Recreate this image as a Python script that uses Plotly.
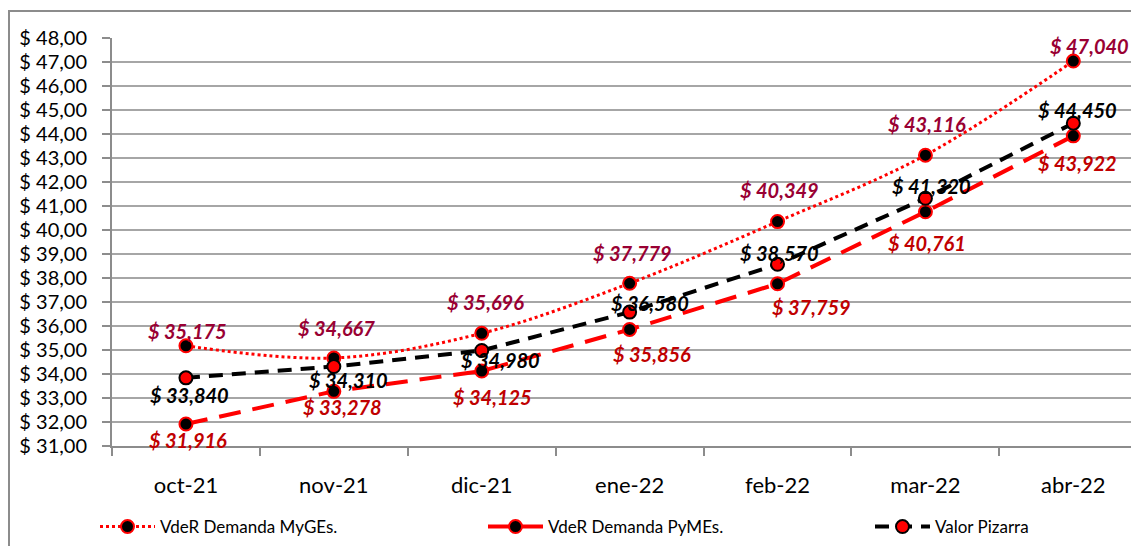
import plotly.graph_objects as go

months = ["oct-21", "nov-21", "dic-21", "ene-22", "feb-22", "mar-22", "abr-22"]
myges = [35.175, 34.667, 35.696, 37.779, 40.349, 43.116, 47.040]
pymes = [31.916, 33.278, 34.125, 35.856, 37.759, 40.761, 43.922]
pizarra = [33.840, 34.310, 34.980, 36.580, 38.570, 41.320, 44.450]
names = ["VdeR Demanda MyGEs.", "VdeR Demanda PyMEs.", "Valor Pizarra"]
ytick_vals = list(range(31, 49))
ytick_text = [f"$ {v},00" for v in ytick_vals]

# label offsets in px (style)
off_myges = [(2, 15), (3, 30), (4, 31), (3, 30), (2, 32), (2, 31), (16, 15)]
off_pymes = [(2, -16), (9, -16), (11, -26), (22, -25), (34, -23), (2, -31), (4, -27)]
off_piz = [(4, -17), (15, -13), (19, -10), (20, 9), (2, 11), (6, 12), (4, 13)]

FONT = "Lato"
L, R, T, B = 112, 0, 38, 100
W, H = 1131, 546
pw, ph = W - L - R, H - T - B


def px_x(p):
    return (p - L) / pw


def px_y(p):
    return (H - B - p) / ph


fig = go.Figure()
fig.add_trace(go.Scatter(
    x=months, y=myges, name=names[0], mode="lines+markers", legend="legend",
    line=dict(color="#FF0000", width=3, dash="dot", shape="spline"),
    marker=dict(size=13, color="black", line=dict(color="#FF0000", width=2)),
))
fig.add_trace(go.Scatter(
    x=months, y=pymes, name=names[1], mode="lines+markers", legend="legend2",
    line=dict(color="#FF0000", width=4, dash="22px,12px"),
    marker=dict(size=13, color="black", line=dict(color="#FF0000", width=2)),
))
fig.add_trace(go.Scatter(
    x=months, y=pizarra, name=names[2], mode="lines+markers", legend="legend3",
    line=dict(color="black", width=4, dash="14px,9px"),
    marker=dict(size=13, color="#FF0000", line=dict(color="black", width=2)),
))


def fmt(v):
    return f"$ {v:.3f}".replace(".", ",")


for vals, offs, col in [(myges, off_myges, "#990033"), (pymes, off_pymes, "#C00000"), (pizarra, off_piz, "black")]:
    for m, v, (dx, dy) in zip(months, vals, offs):
        fig.add_annotation(x=m, y=v, text=f"<b><i>{fmt(v)}</i></b>", showarrow=False,
                           xshift=dx, yshift=dy, font=dict(family=FONT, size=20, color=col))

# outer frame
fig.add_shape(type="rect", xref="paper", yref="paper",
              x0=px_x(9), x1=px_x(W + 10), y0=px_y(H + 10), y1=px_y(11),
              line=dict(color="#8C8C8C", width=2), fillcolor="rgba(0,0,0,0)", layer="below")


def leg(xpx):
    return dict(orientation="h", x=px_x(xpx), xanchor="left", y=px_y(527), yanchor="middle",
                font=dict(family=FONT, size=17), itemwidth=55, bgcolor="rgba(0,0,0,0)")


fig.update_layout(
    width=W, height=H, margin=dict(l=L, r=R, t=T, b=B),
    paper_bgcolor="white", plot_bgcolor="white",
    font=dict(family=FONT, size=20, color="black"),
    showlegend=True,
    legend=leg(95), legend2=leg(483), legend3=leg(870),
    xaxis=dict(type="category", range=[-0.5, 6.39], showgrid=False, showline=True, automargin=False,
               linecolor="#8C8C8C", linewidth=2, ticks="outside", tickson="boundaries",
               ticklen=8, tickcolor="#8C8C8C", tickwidth=2, ticklabelstandoff=19,
               tickfont=dict(family=FONT, size=22)),
    yaxis=dict(range=[31, 48], tickvals=ytick_vals, ticktext=ytick_text, showgrid=True, automargin=False,
               gridcolor="#A6A6A6", gridwidth=2, showline=True, linecolor="#8C8C8C", linewidth=2,
               ticks="outside", ticklen=8, tickcolor="#8C8C8C", tickwidth=2, ticklabelstandoff=11,
               zeroline=False, tickfont=dict(family=FONT, size=20)),
)
fig.write_html("out.html", config={"displayModeBar": False},
               post_script="document.body.style.margin='0';document.body.style.overflow='hidden';")
